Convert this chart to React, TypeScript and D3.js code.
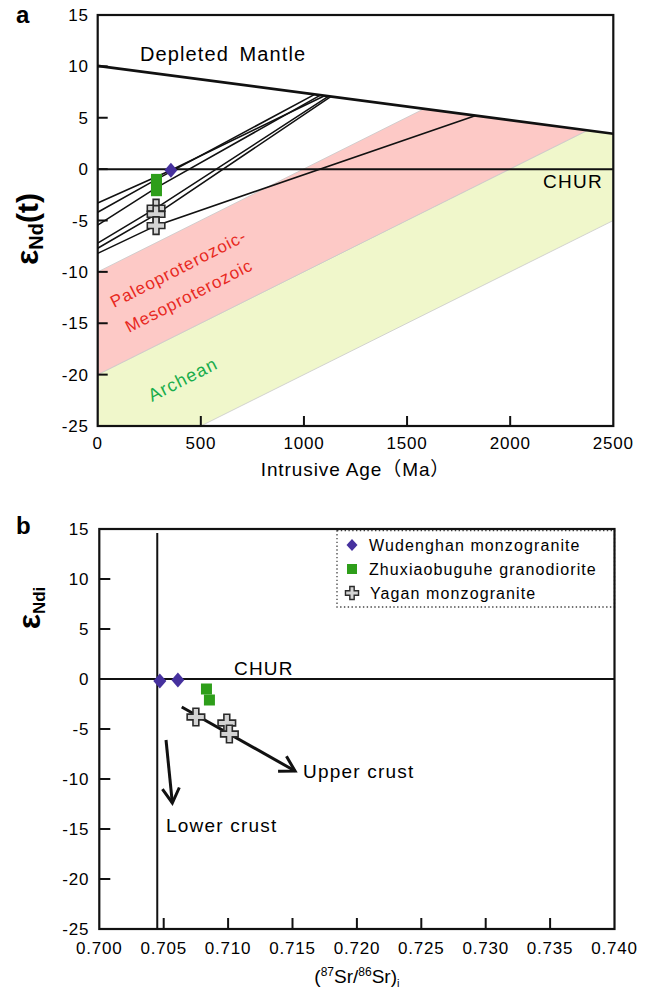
import React from "react";
import * as d3 from "d3";

// ---- panel a : Nd evolution vs. intrusive age ----
const ageTicks = [0, 500, 1000, 1500, 2000, 2500];
const epsTicks = [15, 10, 5, 0, -5, -10, -15, -20, -25];

const depletedMantle = [
  [0, 10.05],
  [2500, 3.45],
];
const churA = [
  [0, 0],
  [2500, 0],
];
// Paleoproterozoic-Mesoproterozoic crust field
const pinkBand = [
  [0, -10],
  [1582, 5.87],
  [2375, 3.78],
  [0, -20],
];
// Archean crust field
const greenBand = [
  [0, -20],
  [2375, 3.78],
  [2500, 3.45],
  [2500, -5],
  [500, -25],
  [0, -25],
];

const wudenghanA = [[355, -0.1]];
const zhuxiaoA = [
  [285, -1.0],
  [285, -1.5],
  [285, -2.1],
];
const yaganA = [
  [283, -3.8],
  [283, -4.4],
  [283, -5.5],
];
// two-stage model lines: today -> sample -> depleted mantle
const modelLines = [
  [[0, -3.3], [355, -0.1], [1100, 7.15]],
  [[0, -4.2], [285, -1.0], [1050, 7.25]],
  [[0, -5.45], [285, -1.8], [1080, 7.2]],
  [[0, -7.2], [283, -3.8], [1120, 7.1]],
  [[0, -7.7], [283, -4.4], [1130, 7.05]],
  [[0, -8.2], [283, -5.5], [1830, 5.2]],
];

// ---- panel b : eNd vs (87Sr/86Sr)i ----
const srTicks = [0.7, 0.705, 0.71, 0.715, 0.72, 0.725, 0.73, 0.735, 0.74];
const wudenghanB = [
  [0.7047, -0.2],
  [0.7061, -0.1],
];
const zhuxiaoB = [
  [0.70832, -1.0],
  [0.70855, -2.1],
];
const yaganB = [
  [0.7075, -3.8],
  [0.7099, -4.4],
  [0.7101, -5.5],
];
const srLine = 0.7045;
const upperCrust = [
  [0.7064, -2.8],
  [0.7152, -9.2],
];
const lowerCrust = [
  [0.70518, -6.1],
  [0.70567, -12.4],
];

const FONT = "'Liberation Sans', Arial, 'Noto Sans CJK SC', sans-serif";
const INK = "#111";
const PURPLE = "#46319e";
const GREEN = "#2e9e1a";

const xA = d3.scaleLinear().domain([0, 2500]).range([97.7, 613.3]);
const yA = d3.scaleLinear().domain([-25, 15]).range([426, 15]);
const xB = d3.scaleLinear().domain([0.7, 0.74]).range([99.3, 614.5]);
const yB = d3.scaleLinear().domain([-25, 15]).range([929, 529]);

const diamond = "M0,-7.5L6.5,0L0,7.5L-6.5,0Z";
const cross = d3.symbol().type(d3.symbolCross).size(170)();
const smallCross = d3.symbol().type(d3.symbolCross).size(95)();

function arrowHead(x1, y1, x2, y2, len = 17, ang = Math.PI / 6) {
  const a = Math.atan2(y2 - y1, x2 - x1);
  const p1 = [x2 - len * Math.cos(a - ang), y2 - len * Math.sin(a - ang)];
  const p2 = [x2 - len * Math.cos(a + ang), y2 - len * Math.sin(a + ang)];
  return `M${p1[0]},${p1[1]}L${x2},${y2}L${p2[0]},${p2[1]}`;
}

function Arrow({ pts }) {
  const [a, b] = pts;
  const x1 = xB(a[0]), y1 = yB(a[1]), x2 = xB(b[0]), y2 = yB(b[1]);
  return (
    <g fill="none" stroke={INK} strokeWidth={3}>
      <line x1={x1} y1={y1} x2={x2} y2={y2} />
      <path d={arrowHead(x1, y1, x2, y2)} strokeLinejoin="miter" />
    </g>
  );
}

function PanelA() {
  const line = d3.line().x((d) => xA(d[0])).y((d) => yA(d[1]));
  const [x0, x1] = xA.range();
  const [y0, y1] = yA.range();
  return (
    <g>
      <path d={line(greenBand) + "Z"} fill="#f0f7cb" stroke="#c9c9c9" strokeWidth={0.8} />
      <path d={line(pinkBand) + "Z"} fill="#fdc9c6" stroke="#c9c9c9" strokeWidth={0.8} />
      <path d={line(churA)} stroke={INK} strokeWidth={2} fill="none" />
      <path d={line(depletedMantle)} stroke={INK} strokeWidth={2.6} fill="none" />
      {modelLines.map((l, i) => (
        <path key={i} d={line(l)} stroke={INK} strokeWidth={1.6} fill="none" />
      ))}
      <rect x={x0} y={y1} width={x1 - x0} height={y0 - y1} fill="none" stroke={INK} strokeWidth={2.2} />
      {epsTicks.slice(1, -1).map((t) => (
        <line key={t} x1={x0} x2={x0 + 10} y1={yA(t)} y2={yA(t)} stroke={INK} strokeWidth={2} />
      ))}
      {ageTicks.slice(1, -1).map((t) => (
        <line key={t} x1={xA(t)} x2={xA(t)} y1={y0} y2={y0 - 10} stroke={INK} strokeWidth={2} />
      ))}
      {epsTicks.map((t) => (
        <text key={t} x={x0 - 9} y={yA(t) + 6} textAnchor="end" fontSize={17} letterSpacing={0.8}>
          {t}
        </text>
      ))}
      {ageTicks.map((t) => (
        <text key={t} x={xA(t)} y={y0 + 23} textAnchor="middle" fontSize={17} letterSpacing={0.8}>
          {t}
        </text>
      ))}
      {zhuxiaoA.map((d, i) => (
        <rect key={i} x={xA(d[0]) - 5.5} y={yA(d[1]) - 5.5} width={11} height={11} fill={GREEN} />
      ))}
      {yaganA.map((d, i) => (
        <path key={i} d={cross} transform={`translate(${xA(d[0])},${yA(d[1])})`} fill="#d3d3d3" stroke="#2a2a2a" strokeWidth={1.6} />
      ))}
      {wudenghanA.map((d, i) => (
        <path key={i} d={diamond} transform={`translate(${xA(d[0])},${yA(d[1])})`} fill={PURPLE} />
      ))}
      <text x={140} y={61} fontSize={20} letterSpacing={1.1} wordSpacing={4}>
        Depleted Mantle
      </text>
      <text x={543} y={188} fontSize={19} letterSpacing={1.3}>
        CHUR
      </text>
      <g fill="#e8281e" fontSize={17} letterSpacing={1}>
        <text transform={`translate(114,308) rotate(-27)`}>Paleoproterozoic-</text>
        <text transform={`translate(129,333) rotate(-27)`}>Mesoproterozoic</text>
      </g>
      <text transform={`translate(152,402) rotate(-27)`} fill="#19ad4b" fontSize={18} letterSpacing={1.2}>
        Archean
      </text>
      <text x={(x0 + x1) / 2} y={476} textAnchor="middle" fontSize={19} letterSpacing={0.9}>
        Intrusive Age（Ma）
      </text>
      <text transform="translate(38,229) rotate(-90)" textAnchor="middle" fontWeight="bold">
        <tspan fontSize={32}>ε</tspan>
        <tspan fontSize={20} dy={5}>Nd</tspan>
        <tspan fontSize={30} dy={-5}>(t)</tspan>
      </text>
      <text x={16} y={23} fontSize={24} fontWeight="bold">
        a
      </text>
    </g>
  );
}

function PanelB() {
  const [x0, x1] = xB.range();
  const [y0, y1] = yB.range();
  const legendRows = [
    { label: "Wudenghan monzogranite", kind: "diamond" },
    { label: "Zhuxiaobuguhe granodiorite", kind: "square" },
    { label: "Yagan monzogranite", kind: "cross" },
  ];
  return (
    <g>
      <line x1={x0} x2={x1} y1={yB(0)} y2={yB(0)} stroke={INK} strokeWidth={2} />
      <line x1={xB(srLine)} x2={xB(srLine)} y1={y1 + 4} y2={y0} stroke={INK} strokeWidth={2} />
      <rect x={337} y={530.5} width={x1 - 337} height={76.5} fill="none" stroke="#444" strokeWidth={1.3} strokeDasharray="1.4,2.4" />
      <rect x={x0} y={y1} width={x1 - x0} height={y0 - y1} fill="none" stroke={INK} strokeWidth={2.2} />
      {epsTicks.slice(1, -1).map((t) => (
        <line key={t} x1={x0} x2={x0 + 11} y1={yB(t)} y2={yB(t)} stroke={INK} strokeWidth={2} />
      ))}
      {srTicks.slice(1, -1).map((t) => (
        <line key={t} x1={xB(t)} x2={xB(t)} y1={y0} y2={y0 - 11} stroke={INK} strokeWidth={2} />
      ))}
      {epsTicks.map((t) => (
        <text key={t} x={x0 - 10} y={yB(t) + 6} textAnchor="end" fontSize={17} letterSpacing={0.8}>
          {t}
        </text>
      ))}
      {srTicks.map((t) => (
        <text key={t} x={xB(t)} y={y0 + 25} textAnchor="middle" fontSize={17} letterSpacing={0.8}>
          {d3.format(".3f")(t)}
        </text>
      ))}
      <Arrow pts={upperCrust} />
      <Arrow pts={lowerCrust} />
      {wudenghanB.map((d, i) => (
        <path key={i} d={diamond} transform={`translate(${xB(d[0])},${yB(d[1])})`} fill={PURPLE} />
      ))}
      {zhuxiaoB.map((d, i) => (
        <rect key={i} x={xB(d[0]) - 5.5} y={yB(d[1]) - 5.5} width={11} height={11} fill={GREEN} />
      ))}
      {yaganB.map((d, i) => (
        <path key={i} d={cross} transform={`translate(${xB(d[0])},${yB(d[1])})`} fill="#d3d3d3" stroke="#2a2a2a" strokeWidth={1.6} />
      ))}
      <text x={234} y={675} fontSize={19} letterSpacing={1.2}>
        CHUR
      </text>
      <text x={303} y={778} fontSize={19} letterSpacing={1.2}>
        Upper crust
      </text>
      <text x={166} y={832} fontSize={19} letterSpacing={1.2}>
        Lower crust
      </text>
      {legendRows.map((r, i) => {
        const cy = 545 + i * 24;
        return (
          <g key={r.label}>
            {r.kind === "diamond" && <path d="M0,-6L5.5,0L0,6L-5.5,0Z" transform={`translate(352,${cy})`} fill={PURPLE} />}
            {r.kind === "square" && <rect x={347} y={cy - 5} width={10} height={10} fill={GREEN} />}
            {r.kind === "cross" && (
              <path d={smallCross} transform={`translate(352,${cy})`} fill="#d3d3d3" stroke="#2a2a2a" strokeWidth={1.4} />
            )}
            <text x={r.kind === "cross" ? 370 : 369} y={cy + 6} fontSize={16} letterSpacing={1.1}>
              {r.label}
            </text>
          </g>
        );
      })}
      <text x={(x0 + x1) / 2} y={983} textAnchor="middle" fontSize={19}>
        (<tspan fontSize={12} dy={-7}>87</tspan>
        <tspan dy={7}>Sr/</tspan>
        <tspan fontSize={12} dy={-7}>86</tspan>
        <tspan dy={7}>Sr)</tspan>
        <tspan fontSize={11} dy={4}>i</tspan>
      </text>
      <text transform="translate(40,608) rotate(-90)" textAnchor="middle" fontWeight="bold">
        <tspan fontSize={32}>ε</tspan>
        <tspan fontSize={17} dy={5}>Ndi</tspan>
      </text>
      <text x={16} y={534} fontSize={24} fontWeight="bold">
        b
      </text>
    </g>
  );
}

export default function App() {
  return (
    <svg
      width={650}
      height={992}
      viewBox="0 0 650 992"
      style={{ position: "absolute", left: 0, top: 0, background: "#fff" }}
      fontFamily={FONT}
      fill="#000"
    >
      <PanelA />
      <PanelB />
    </svg>
  );
}
